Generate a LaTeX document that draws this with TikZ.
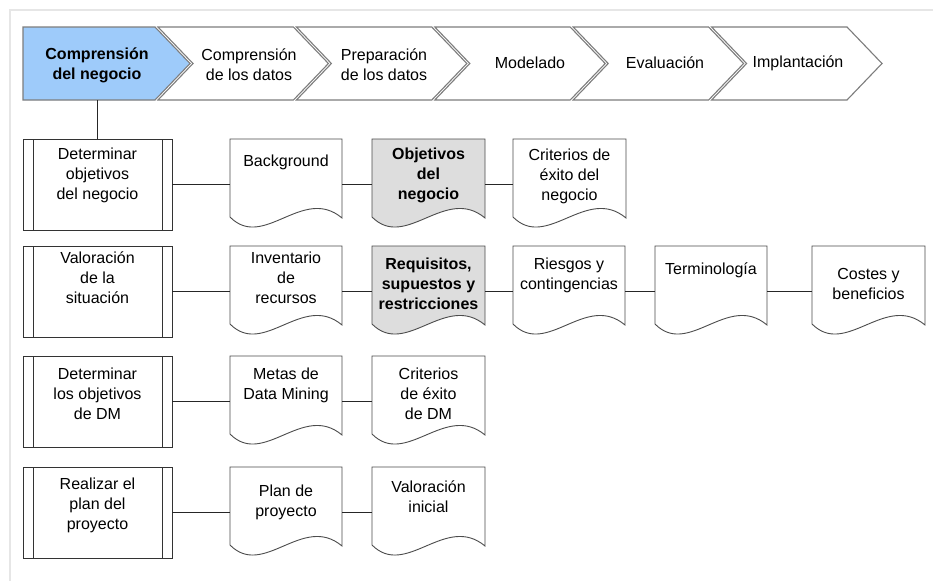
\documentclass[tikz,border=0pt]{standalone}
\usepackage{fontspec}
\setmainfont{Liberation Sans}
\usetikzlibrary{calc}

\definecolor{phaseblue}{RGB}{158,203,250}
\definecolor{docgray}{RGB}{221,221,221}
\definecolor{chevline}{RGB}{125,125,125}
\definecolor{framegray}{RGB}{230,230,230}

\tikzset{
  txt/.style={align=center, inner sep=0pt, font=\fontsize{16}{20}\selectfont},
  boldtxt/.style={txt, font=\fontsize{16}{20}\selectfont\bfseries},
  stepbox/.style={draw=black!80, line width=1pt, fill=white, minimum width=149pt,
                  minimum height=91pt, inner sep=0pt, outer sep=0pt},
  stepline/.style={draw=black!80, line width=1pt},
  docframe/.style={draw=none, minimum height=91pt, inner sep=0pt, outer sep=0pt},
  docline/.style={draw=black!70, line width=0.9pt},
  chev/.style={draw=chevline, line width=1.1pt, line join=miter},
  conn/.style={draw=black!85, line width=0.9pt},
}

% process step: box with two inner vertical bars
% #1 name, #2 left x, #3 top y, #4 text offset from top, #5 text
\newcommand\mkstep[5]{%
  \node[stepbox, anchor=north west] (#1) at (#2,#3) {};
  \draw[stepline] ([xshift=10pt]#1.north west) -- ([xshift=10pt]#1.south west);
  \draw[stepline] ([xshift=-10pt]#1.north east) -- ([xshift=-10pt]#1.south east);
  \node[txt] (#1-t) at ([yshift=-#4pt]#1.north) {#5};
}

% document shape with wavy lower edge
% #1 name, #2 left x, #3 top y, #4 width, #5 fill
\newcommand\mkdoc[5]{%
  \node[docframe, minimum width=#4pt, anchor=north west] (#1) at (#2,#3) {};
  \filldraw[docline, fill=#5] (#1.north west) -- (#1.north east)
    -- ([yshift=-79pt]#1.north east)
    .. controls ($(#1.north west)!0.65!(#1.north east)+(0,46)$)
       and ($(#1.north west)!0.30!(#1.north east)+(0,112)$) ..
    ([yshift=-78pt]#1.north west) -- cycle;
}
% text of a document shape: #1 name, #2 offset from top, #3 style, #4 text
\newcommand\doctext[4]{%
  \node[#3] (#1-t) at ([yshift=-#2pt]#1.north) {#4};
}

\begin{document}
\begin{tikzpicture}[x=1pt, y=-1pt]
\useasboundingbox (0,0) rectangle (933,581);
\fill[white] (0,0) rectangle (933,581);

% outer frame (top and left edges)
\draw[framegray, line width=1.6pt] (933,10) -- (10,10) -- (10,581);

% ---------- phase chevrons ----------
\filldraw[chev, fill=phaseblue] (23,27) -- (155,27) -- (190,63.5) -- (155,100) -- (23,100) -- cycle;
\foreach \L/\R in {158/293.4, 296.4/431.8, 434.8/570.2, 573.2/708.6, 711.6/847}{
  \filldraw[chev, fill=white] (\L,27) -- (\R,27) -- (\R+35,63.5) -- (\R,100)
    -- (\L,100) -- (\L+35,63.5) -- cycle;
}
\node[boldtxt] (ph1) at (97,65) {Comprensión\\del negocio};
\node[txt] (ph2) at (249,65) {Comprensión\\de los datos};
\node[txt] (ph3) at (384,65) {Preparación\\de los datos};
\node[txt] (ph4) at (530,63) {Modelado};
\node[txt] (ph5) at (665,63) {Evaluación};
\node[txt] (ph6) at (798,63) {Implantación};
\coordinate (ph1b) at (97.5,100);

% ---------- task rows ----------
\mkstep{t1}{23}{139}{36}{Determinar\\objetivos\\del negocio}
\mkstep{t2}{23}{246}{32}{Valoración\\de la\\situación}
\mkstep{t3}{23}{356}{38}{Determinar\\los objetivos\\de DM}
\mkstep{t4}{23}{467}{38}{Realizar el\\plan del\\proyecto}

% row 1 outputs
\mkdoc{bg}{230}{139}{112}{white}
\doctext{bg}{23}{txt}{Background}
\mkdoc{ob}{372}{139}{113}{docgray}
\doctext{ob}{36}{boldtxt}{Objetivos\\del\\negocio}
\mkdoc{cn}{513}{139}{113}{white}
\doctext{cn}{37}{txt}{Criterios de\\éxito del\\negocio}

% row 2 outputs
\mkdoc{inv}{230}{246}{112}{white}
\doctext{inv}{32}{txt}{Inventario\\de\\recursos}
\mkdoc{req}{372}{246}{113}{docgray}
\doctext{req}{38}{boldtxt}{Requisitos,\\supuestos y\\restricciones}
\mkdoc{rie}{513}{246}{112}{white}
\doctext{rie}{29}{txt}{Riesgos y\\contingencias}
\mkdoc{ter}{655}{246}{112}{white}
\doctext{ter}{24}{txt}{Terminología}
\mkdoc{cos}{812}{246}{113}{white}
\doctext{cos}{38}{txt}{Costes y\\beneficios}

% row 3 outputs
\mkdoc{met}{230}{356}{112}{white}
\doctext{met}{29}{txt}{Metas de\\Data Mining}
\mkdoc{cdm}{372}{356}{113}{white}
\doctext{cdm}{38}{txt}{Criterios\\de éxito\\de DM}

% row 4 outputs
\mkdoc{pp}{230}{467}{112}{white}
\doctext{pp}{35}{txt}{Plan de\\proyecto}
\mkdoc{vi}{372}{467}{113}{white}
\doctext{vi}{30}{txt}{Valoración\\inicial}

% ---------- connectors ----------
\draw[conn] (ph1b) -- (t1.north);
\draw[conn] (t1.east) -- (bg.west);
\draw[conn] (bg.east) -- (ob.west);
\draw[conn] (ob.east) -- (cn.west);
\draw[conn] (t2.east) -- (inv.west);
\draw[conn] (inv.east) -- (req.west);
\draw[conn] (req.east) -- (rie.west);
\draw[conn] (rie.east) -- (ter.west);
\draw[conn] (ter.east) -- (cos.west);
\draw[conn] (t3.east) -- (met.west);
\draw[conn] (met.east) -- (cdm.west);
\draw[conn] (t4.east) -- (pp.west);
\draw[conn] (pp.east) -- (vi.west);
\end{tikzpicture}
\end{document}
